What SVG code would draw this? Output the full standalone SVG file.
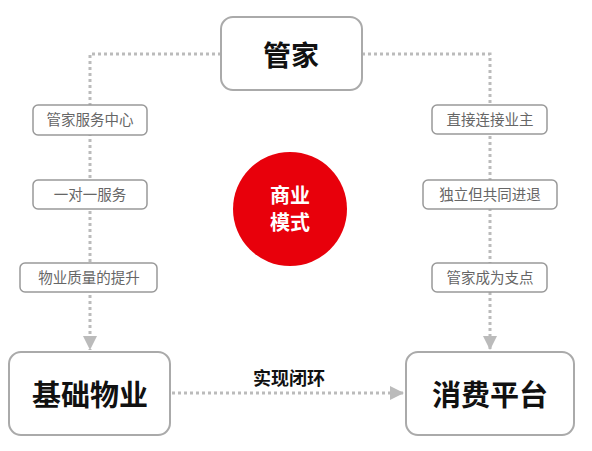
<svg xmlns="http://www.w3.org/2000/svg" width="592" height="451" viewBox="0 0 592 451">
<style>
.big{fill:#fff;stroke:#aaa;stroke-width:2}
.lbl{fill:#fff;stroke:#999;stroke-width:1.5}
.dot{fill:none;stroke:#bbb;stroke-width:3;stroke-dasharray:3 3}
.bt{font-family:"Noto Sans CJK SC",sans-serif;font-weight:bold;fill:#111;text-anchor:middle}
.st{font-family:"Noto Sans CJK SC",sans-serif;font-size:14.5px;fill:#666;text-anchor:middle}
.ct{font-family:"Noto Sans CJK SC",sans-serif;font-weight:bold;font-size:20px;fill:#fff;text-anchor:middle}
</style>
<defs>
<marker id="ah" viewBox="0 0 10 10" refX="10" refY="5" markerWidth="15" markerHeight="14" markerUnits="userSpaceOnUse" orient="auto">
<path d="M0,0 L10,5 L0,10 z" fill="#bbb"/>
</marker>
</defs>
<rect width="592" height="451" fill="#fff"/>
<g id="connectors">
<path class="dot" d="M221,54 H90 V350" marker-end="url(#ah)"/>
<path class="dot" d="M362,54 H490 V350" marker-end="url(#ah)"/>
<path class="dot" d="M172,393 H404" marker-end="url(#ah)"/>
</g>
<g id="n-guanjia"><rect class="big" x="221" y="17" width="141" height="73" rx="12"/><text class="bt" x="291" y="66" font-size="28">管家</text></g>
<g id="n-jichu"><rect class="big" x="9" y="352" width="161" height="83" rx="12"/><text class="bt" x="90" y="406" font-size="29">基础物业</text></g>
<g id="n-xiaofei"><rect class="big" x="406" y="352" width="168" height="83" rx="12"/><text class="bt" x="490" y="406" font-size="29">消费平台</text></g>
<g id="n-center"><circle cx="290" cy="209" r="57" fill="#e8000b"/><text class="ct" x="290" y="203">商业</text><text class="ct" x="290" y="230">模式</text></g>
<g id="l1"><rect class="lbl" x="33" y="105" width="114" height="30" rx="5"/><text class="st" x="90" y="125">管家服务中心</text></g>
<g id="l2"><rect class="lbl" x="33" y="180" width="114" height="29" rx="5"/><text class="st" x="90" y="200">一对一服务</text></g>
<g id="l3"><rect class="lbl" x="20" y="263" width="137" height="29" rx="5"/><text class="st" x="89" y="283">物业质量的提升</text></g>
<g id="r1"><rect class="lbl" x="432" y="105" width="115" height="29" rx="5"/><text class="st" x="490" y="125">直接连接业主</text></g>
<g id="r2"><rect class="lbl" x="423" y="180" width="134" height="29" rx="5"/><text class="st" x="490" y="200">独立但共同进退</text></g>
<g id="r3"><rect class="lbl" x="432" y="263" width="115" height="29" rx="5"/><text class="st" x="490" y="283">管家成为支点</text></g>
<g id="e-label"><text class="bt" x="289" y="385" font-size="18">实现闭环</text></g>
</svg>
